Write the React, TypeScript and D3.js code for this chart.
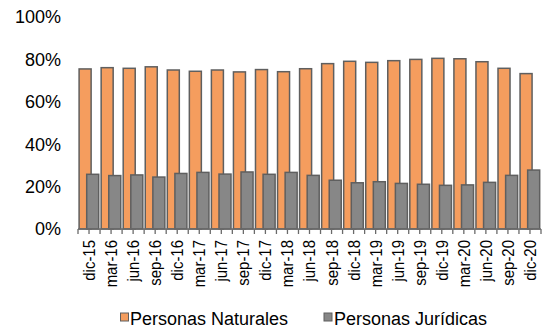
import React from "react";
import * as d3 from "d3";

const categories = ["dic-15","mar-16","jun-16","sep-16","dic-16","mar-17","jun-17","sep-17","dic-17","mar-18","jun-18","sep-18","dic-18","mar-19","jun-19","sep-19","dic-19","mar-20","jun-20","sep-20","dic-20"];
const naturales = [75.5,76.1,75.8,76.5,75.0,74.4,75.0,74.1,75.2,74.2,75.6,78.0,79.1,78.6,79.4,80.0,80.5,80.3,78.9,75.8,73.3];
const juridicas = [25.8,25.2,25.5,24.5,26.2,26.7,25.9,26.9,25.8,26.7,25.3,23.0,21.8,22.3,21.5,21.1,20.6,20.8,22.0,25.3,27.8];
const yTicks = [0, 20, 40, 60, 80, 100];
const seriesNames = ["Personas Naturales", "Personas Jurídicas"];
const colors = ["#F59D5E", "#878787"];

export default function App() {
  const W = 546, H = 328;
  const x0 = 78, x1 = 541, yTop = 17, yBot = 229;
  const x = d3.scaleBand().domain(categories).range([x0, x1]).padding(0);
  const y = d3.scaleLinear().domain([0, 100]).range([yBot, yTop]);
  const bw = x.bandwidth();
  const barW = bw * 0.545;
  const offO = bw * 0.05;
  const offG = bw * 0.395;
  const stroke = "#5f5f5f";
  const font = "'Liberation Sans', Arial, sans-serif";
  const halfTicks = d3.range(0, categories.length * 2 + 1).map(k => x0 + (k * bw) / 2);
  return (
    <svg width={W} height={H} style={{ position: "absolute", left: 0, top: 0, background: "#fff" }} fontFamily={font}>
      {yTicks.map(t => (
        <text key={t} x={61} y={y(t)} dy="0.35em" textAnchor="end" fontSize={18} fill="#000">{t}%</text>
      ))}
      {categories.map((c, i) => (
        <g key={c}>
          <rect x={x(c)! + offO} y={y(naturales[i])} width={barW} height={yBot - y(naturales[i])} fill={colors[0]} stroke={stroke} strokeWidth={1.5} />
          <rect x={x(c)! + offG} y={y(juridicas[i])} width={barW} height={yBot - y(juridicas[i])} fill={colors[1]} stroke={stroke} strokeWidth={1.5} />
        </g>
      ))}
      <line x1={x0} x2={x1} y1={yBot} y2={yBot} stroke="#6a6a6a" strokeWidth={1.5} />
      {halfTicks.map((tx, k) => (
        <line key={k} x1={tx} x2={tx} y1={yBot} y2={yBot + 5} stroke="#6a6a6a" strokeWidth={1.3} />
      ))}
      {categories.map(c => (
        <text key={c} transform={`translate(${x(c)! + bw / 2},${yBot + 11}) rotate(-90) scale(0.88,1)`} dy="0.35em" textAnchor="end" fontSize={17} fill="#000">{c}</text>
      ))}
      <g>
        <rect x={120.5} y={313} width={8} height={8} fill={colors[0]} stroke={stroke} strokeWidth={1} />
        <text x={130} y={318.5} dy="0.35em" fontSize={18} fill="#000">{seriesNames[0]}</text>
        <rect x={324} y={313} width={8} height={8} fill={colors[1]} stroke={stroke} strokeWidth={1} />
        <text x={334} y={318.5} dy="0.35em" fontSize={18} fill="#000">{seriesNames[1]}</text>
      </g>
    </svg>
  );
}
